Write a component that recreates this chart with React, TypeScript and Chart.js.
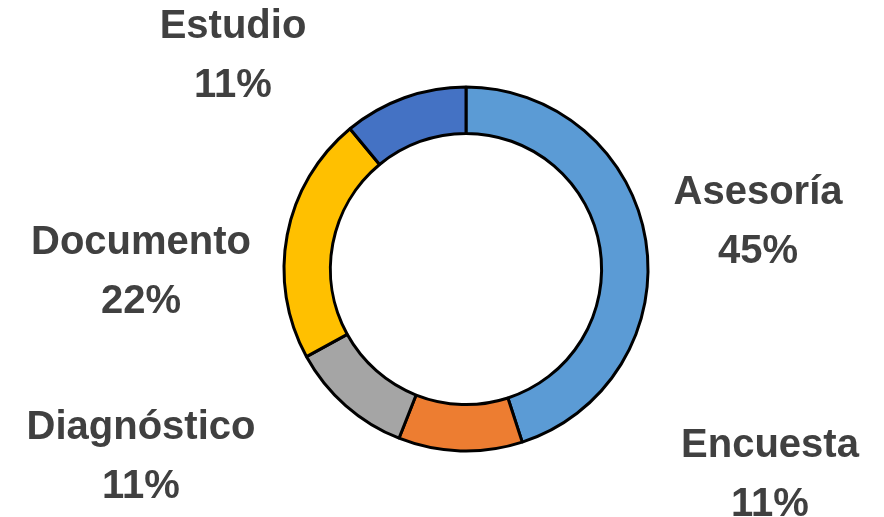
import React, { useEffect, useRef } from "react";
import { Chart, registerables } from "chart.js";

Chart.register(...registerables);

const categories = ["Asesoría", "Encuesta", "Diagnóstico", "Documento", "Estudio"];
const values = [45, 11, 11, 22, 11];
const percentLabels = ["45%", "11%", "11%", "22%", "11%"];
const colors = ["#5B9BD5", "#ED7D31", "#A5A5A5", "#FFC000", "#4472C4"];
// label anchor (center x, first-line baseline) relative to the chart centre
const labelOffsets = [
  [292, -65],
  [304, 188],
  [-325, 170],
  [-325, -15],
  [-233, -231],
];

const labelPlugin = {
  id: "outerLabels",
  afterDraw(chart: any) {
    const ctx = chart.ctx;
    const arc = chart.getDatasetMeta(0).data[0];
    if (!arc) return;
    const cx = arc.x;
    const cy = arc.y;
    ctx.save();
    ctx.font = "bold 40px 'Liberation Sans', Arial, sans-serif";
    ctx.fillStyle = "#404040";
    ctx.textAlign = "center";
    ctx.textBaseline = "alphabetic";
    categories.forEach((c, i) => {
      const [dx, dy] = labelOffsets[i];
      ctx.fillText(c, cx + dx, cy + dy);
      ctx.fillText(percentLabels[i], cx + dx, cy + dy + 59);
    });
    ctx.restore();
  },
};

export default function App() {
  const ref = useRef<HTMLCanvasElement>(null);
  useEffect(() => {
    document.body.style.margin = "0";
    const chart = new Chart(ref.current!, {
      type: "doughnut",
      data: {
        labels: categories,
        datasets: [
          {
            data: values,
            backgroundColor: colors,
            borderColor: "#000000",
            borderWidth: 3,
          },
        ],
      },
      options: {
        responsive: false,
        animation: false,
        radius: 182,
        cutout: "74.5%",
        layout: { padding: { left: 48, right: 0, top: 21, bottom: 0 } },
        plugins: {
          legend: { display: false },
          tooltip: { enabled: false },
        },
      } as any,
      plugins: [labelPlugin],
    });
    return () => chart.destroy();
  }, []);
  return (
    <div style={{ width: 884, height: 517, background: "#fff" }}>
      <canvas ref={ref} width={884} height={517} />
    </div>
  );
}
